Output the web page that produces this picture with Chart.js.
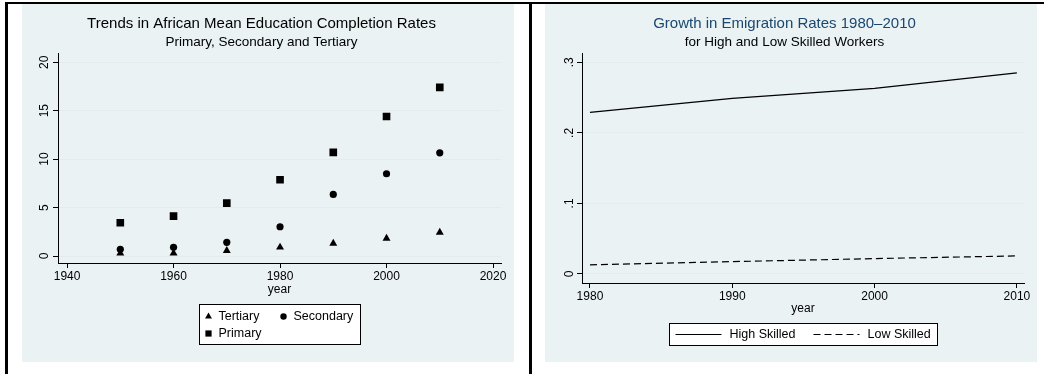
<!DOCTYPE html>
<html>
<head>
<meta charset="utf-8">
<script src="https://cdn.jsdelivr.net/npm/chart.js@4.4.1/dist/chart.umd.min.js"></script>
<style>
  body { margin: 0; background: #fff; width: 1044px; height: 374px; position: relative; overflow: hidden; }
  .rule { position: absolute; background: #000; }
  .panel { position: absolute; top: 4px; width: 492px; height: 358px; background: #eaf2f3; }
  .panel canvas { display: block; }
</style>
</head>
<body>
<div class="rule" style="left:5px; top:2px; width:1039px; height:2px"></div>
<div class="rule" style="left:5px; top:2px; width:3px; height:372px"></div>
<div class="rule" style="left:529px; top:2px; width:3px; height:372px"></div>
<div class="panel" style="left:22px"><canvas id="eduChart" width="492" height="358"></canvas></div>
<div class="panel" style="left:545px"><canvas id="emiChart" width="492" height="358"></canvas></div>
<script>
// education completion (left)
const eduYears = [1950, 1960, 1970, 1980, 1990, 2000, 2010];
const tertiary = [0.28, 0.3, 0.55, 0.9, 1.31, 1.82, 2.44];
const secondary = [0.69, 0.9, 1.41, 3.02, 6.36, 8.49, 10.65];
const primary = [3.43, 4.12, 5.46, 7.87, 10.7, 14.4, 17.4];
const eduXTicks = [1940, 1960, 1980, 2000, 2020];
const eduYTicks = [0, 5, 10, 15, 20];

// emigration rates (right)
const emiYears = [1980, 1990, 2000, 2010];
const highSkilled = [0.229, 0.249, 0.263, 0.285];
const lowSkilled = [0.013, 0.0175, 0.0218, 0.0256];
const emiXTicks = [1980, 1990, 2000, 2010];
const emiYTicks = [0, 0.1, 0.2, 0.3];

const FONT = "'Liberation Sans', Arial, sans-serif";
const GRID = '#e3eced';
const pts = (xs, ys) => xs.map((x, i) => ({ x, y: ys[i] }));

// stata-ish boxed legend below the plot
const boxLegend = {
    id: 'boxLegend',
    afterDraw(chart, args, o) {
        const ctx = chart.ctx;
        const ca = chart.chartArea;
        const left = Math.round((ca.left + ca.right) / 2 - o.width / 2) + 0.5;
        const top = Math.round(ca.bottom + o.top) + 0.5;
        ctx.save();
        ctx.fillStyle = '#fff';
        ctx.fillRect(left, top, o.width, o.height);
        ctx.strokeStyle = '#000';
        ctx.lineWidth = 1;
        ctx.strokeRect(left, top, o.width, o.height);
        ctx.font = o.fontSize + 'px ' + FONT;
        ctx.textBaseline = 'middle';
        chart.data.datasets.forEach((ds, i) => {
            const col = i % o.cols, row = Math.floor(i / o.cols);
            const x0 = left + col * o.colWidth;
            const y = top + o.firstRow + row * o.rowHeight;
            ctx.fillStyle = '#000';
            ctx.strokeStyle = '#000';
            if (o.lines) {
                ctx.lineWidth = 1;
                ctx.setLineDash(ds.borderDash || []);
                ctx.beginPath();
                ctx.moveTo(x0 + o.symbolX, y);
                ctx.lineTo(x0 + o.symbolX + o.symbolLen, y);
                ctx.stroke();
                ctx.setLineDash([]);
            } else {
                Chart.helpers.drawPoint(ctx, { pointStyle: ds.pointStyle, radius: ds.legendRadius, rotation: 0, borderWidth: 0 }, x0 + o.symbolX, y);
            }
            ctx.fillStyle = '#000';
            ctx.fillText(ds.label, x0 + o.textX, y + 0.5);
        });
        ctx.restore();
    }
};

const yTickOpts = (fmt) => ({
    color: '#000',
    font: { family: FONT, size: 12 },
    minRotation: 90,
    maxRotation: 90,
    crossAlign: 'center',
    padding: 2,
    callback: fmt
});

const xTickOpts = {
    color: '#000',
    font: { family: FONT, size: 12 },
    padding: 1,
    maxRotation: 0,
    callback: v => String(v)
};

new Chart(document.getElementById('eduChart'), {
    type: 'scatter',
    data: {
        datasets: [
            { label: 'Tertiary', data: pts(eduYears, tertiary), pointStyle: 'triangle', pointRadius: 4.6, legendRadius: 4, backgroundColor: '#000', borderColor: '#000', borderWidth: 0 },
            { label: 'Secondary', data: pts(eduYears, secondary), pointStyle: 'circle', pointRadius: 3.6, legendRadius: 3.2, backgroundColor: '#000', borderColor: '#000', borderWidth: 0 },
            { label: 'Primary', data: pts(eduYears, primary), pointStyle: 'rect', pointRadius: 5.4, legendRadius: 4.4, backgroundColor: '#000', borderColor: '#000', borderWidth: 0 }
        ]
    },
    options: {
        responsive: false,
        animation: false,
        events: [],
        layout: { padding: { left: 0, right: 13, top: 0, bottom: 65 } },
        plugins: {
            legend: { display: false },
            tooltip: { enabled: false },
            title: { display: true, text: 'Trends in African Mean Education Completion Rates', color: '#000', font: { family: FONT, size: 15, weight: 'normal' }, padding: { top: 11, bottom: 1 } },
            subtitle: { display: true, text: 'Primary, Secondary and Tertiary', color: '#000', font: { family: FONT, size: 13.5 }, padding: { top: 0, bottom: 3 } },
            boxLegend: { width: 161, height: 40, top: 41, cols: 2, colWidth: 75, rowHeight: 17, firstRow: 12, symbolX: 9, textX: 19, fontSize: 12.5 }
        },
        scales: {
            x: {
                type: 'linear', min: 1938.3, max: 2021.5,
                afterBuildTicks: s => { s.ticks = eduXTicks.map(v => ({ value: v })); },
                afterFit: s => { s.height = 34; },
                grid: { drawOnChartArea: false, tickLength: 5, tickColor: '#000' },
                border: { color: '#000', width: 1 },
                ticks: xTickOpts,
                title: { display: true, text: 'year', color: '#000', font: { family: FONT, size: 12 }, padding: 0 }
            },
            y: {
                min: -0.72, max: 20.93,
                afterBuildTicks: s => { s.ticks = eduYTicks.map(v => ({ value: v })); },
                afterFit: s => { s.width = 36; },
                grid: { color: GRID, tickLength: 5, tickColor: '#000' },
                border: { color: '#000', width: 1 },
                ticks: yTickOpts(v => String(v))
            }
        }
    },
    plugins: [boxLegend]
});

new Chart(document.getElementById('emiChart'), {
    type: 'scatter',
    data: {
        datasets: [
            { label: 'High Skilled', data: pts(emiYears, highSkilled), showLine: true, borderColor: '#000', borderWidth: 1.2, pointRadius: 0, backgroundColor: '#000' },
            { label: 'Low Skilled', data: pts(emiYears, lowSkilled), showLine: true, borderColor: '#000', borderWidth: 1.2, borderDash: [7, 4], pointRadius: 0, backgroundColor: '#000' }
        ]
    },
    options: {
        responsive: false,
        animation: false,
        events: [],
        layout: { padding: { left: 0, right: 13, top: 0, bottom: 46 } },
        plugins: {
            legend: { display: false },
            tooltip: { enabled: false },
            title: { display: true, text: 'Growth in Emigration Rates 1980\u20132010', color: '#1a476f', font: { family: FONT, size: 15, weight: 'normal' }, padding: { top: 11, bottom: 1 } },
            subtitle: { display: true, text: 'for High and Low Skilled Workers', color: '#000', font: { family: FONT, size: 13.5 }, padding: { top: 0, bottom: 3 } },
            boxLegend: { lines: true, width: 268, height: 22, top: 40, cols: 2, colWidth: 138, rowHeight: 17, firstRow: 11, symbolX: 6, symbolLen: 46, textX: 60, fontSize: 12.5 }
        },
        scales: {
            x: {
                type: 'linear', min: 1979.44, max: 2010.5,
                afterBuildTicks: s => { s.ticks = emiXTicks.map(v => ({ value: v })); },
                afterFit: s => { s.height = 33; },
                grid: { drawOnChartArea: false, tickLength: 5, tickColor: '#000' },
                border: { color: '#000', width: 1 },
                ticks: xTickOpts,
                title: { display: true, text: 'year', color: '#000', font: { family: FONT, size: 12 }, padding: 0 }
            },
            y: {
                min: -0.0128, max: 0.313,
                afterBuildTicks: s => { s.ticks = emiYTicks.map(v => ({ value: v })); },
                afterFit: s => { s.width = 37; },
                grid: { color: GRID, tickLength: 5, tickColor: '#000' },
                border: { color: '#000', width: 1 },
                ticks: yTickOpts(v => v === 0 ? '0' : v.toFixed(1).replace(/^0/, ''))
            }
        }
    },
    plugins: [boxLegend]
});
</script>
</body>
</html>
